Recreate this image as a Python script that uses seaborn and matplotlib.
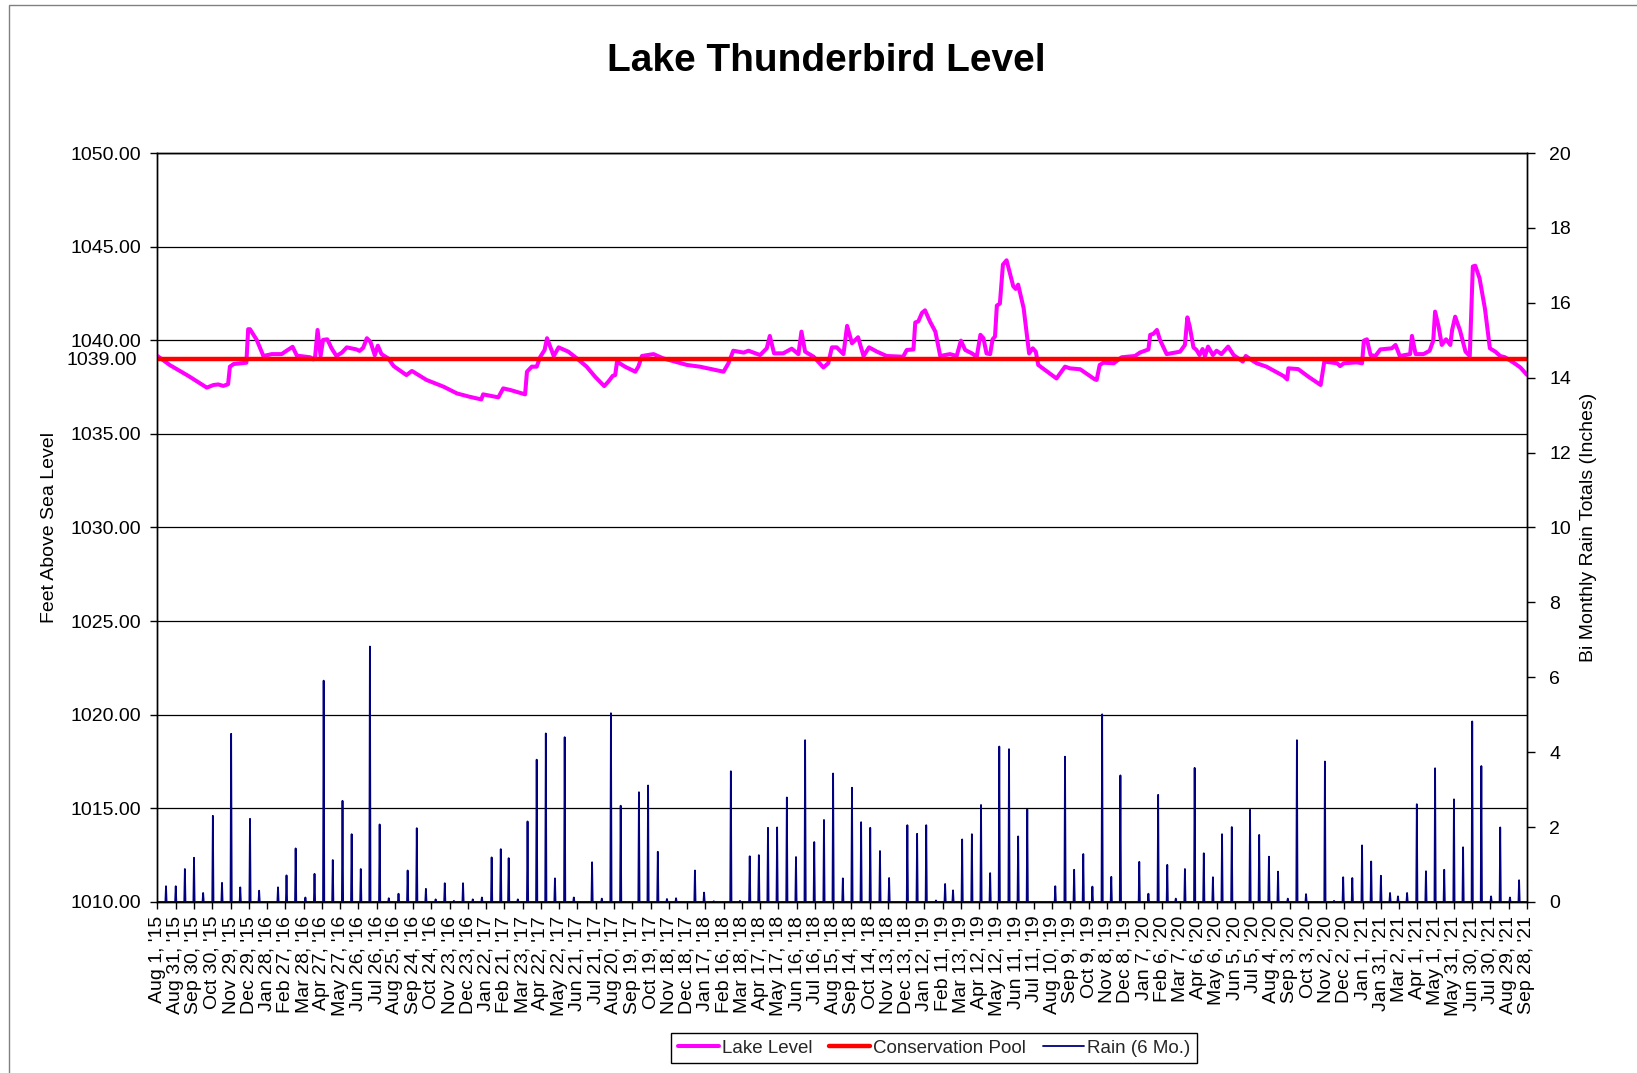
import numpy as np
import pandas as pd
import matplotlib
matplotlib.use("Agg")
import matplotlib.pyplot as plt
from matplotlib.lines import Line2D
from matplotlib.patches import Rectangle
import seaborn as sns

# ---------------- data ----------------
title = "Lake Thunderbird Level"
start_date = "2015-08-01"
end_date = "2021-09-28"

# lake level samples: days since Aug 1, 2015 and feet above sea level
lake_day = [0, 20, 51, 81, 92, 100, 108, 116, 119, 125, 146, 149, 152, 163, 174, 188, 204, 212, 222, 229,
            251, 256, 259, 263, 268, 272, 279, 286, 294, 303, 311, 327, 332, 338, 344, 350, 357, 362, 368, 379,
            388, 409, 418, 442, 470, 492, 513, 532, 535, 560, 568, 580, 604, 607, 615, 623, 629, 636, 640, 651,
            659, 675, 689, 705, 719, 734, 741, 748, 752, 755, 768, 785, 790, 796, 815, 831, 870, 891, 930, 938,
            946, 963, 971, 990, 1001, 1006, 1013, 1028, 1042, 1053, 1058, 1064, 1078, 1094, 1102, 1108, 1116, 1127, 1133, 1141,
            1151, 1160, 1169, 1182, 1198, 1225, 1231, 1242, 1245, 1250, 1256, 1261, 1269, 1278, 1286, 1302, 1313, 1320, 1327, 1338,
            1346, 1352, 1357, 1362, 1368, 1372, 1376, 1379, 1384, 1389, 1395, 1406, 1410, 1414, 1423, 1428, 1432, 1438, 1443, 1447,
            1477, 1491, 1499, 1516, 1540, 1543, 1548, 1554, 1571, 1584, 1606, 1614, 1628, 1631, 1636, 1642, 1647, 1658, 1680, 1688,
            1692, 1696, 1702, 1707, 1712, 1717, 1721, 1726, 1734, 1740, 1748, 1759, 1768, 1783, 1788, 1799, 1806, 1822, 1850, 1856,
            1858, 1874, 1891, 1911, 1917, 1938, 1943, 1949, 1970, 1979, 1982, 1987, 1993, 2001, 2009, 2028, 2034, 2041, 2058, 2061,
            2067, 2080, 2090, 2096, 2099, 2105, 2110, 2117, 2124, 2127, 2132, 2140, 2149, 2156, 2161, 2165, 2172, 2181, 2189, 2198,
            2206, 2214, 2228, 2239, 2250]
lake_level = [1039.16, 1038.68, 1038.09, 1037.47, 1037.61, 1037.64, 1037.56, 1037.65, 1038.59, 1038.73, 1038.80, 1040.59, 1040.59, 1040.02, 1039.16, 1039.26, 1039.26, 1039.44, 1039.65, 1039.18,
              1039.09, 1038.98, 1039.12, 1040.55, 1039.16, 1040.02, 1040.05, 1039.57, 1039.16, 1039.34, 1039.62, 1039.51, 1039.43, 1039.60, 1040.11, 1039.91, 1039.20, 1039.71, 1039.26, 1039.03,
              1038.62, 1038.14, 1038.36, 1037.88, 1037.52, 1037.16, 1036.98, 1036.84, 1037.11, 1036.95, 1037.43, 1037.34, 1037.11, 1038.32, 1038.59, 1038.59, 1039.12, 1039.48, 1040.11, 1039.16,
              1039.62, 1039.39, 1039.03, 1038.59, 1038.05, 1037.55, 1037.80, 1038.10, 1038.14, 1038.86, 1038.59, 1038.32, 1038.59, 1039.16, 1039.26, 1039.03, 1038.68, 1038.59, 1038.32, 1038.77,
              1039.44, 1039.34, 1039.44, 1039.21, 1039.57, 1040.23, 1039.30, 1039.30, 1039.55, 1039.26, 1040.46, 1039.39, 1039.12, 1038.55, 1038.77, 1039.62, 1039.62, 1039.26, 1040.77, 1039.84,
              1040.16, 1039.16, 1039.62, 1039.39, 1039.16, 1039.12, 1039.48, 1039.51, 1040.95, 1041.01, 1041.46, 1041.60, 1041.01, 1040.46, 1039.16, 1039.26, 1039.16, 1039.98, 1039.48, 1039.30,
              1039.12, 1040.29, 1040.11, 1039.30, 1039.26, 1040.05, 1040.20, 1041.85, 1041.96, 1044.04, 1044.27, 1042.88, 1042.74, 1042.97, 1041.72, 1040.38, 1039.30, 1039.57, 1039.39, 1038.68,
              1037.96, 1038.59, 1038.50, 1038.45, 1037.91, 1037.88, 1038.68, 1038.80, 1038.77, 1039.09, 1039.16, 1039.34, 1039.51, 1040.29, 1040.34, 1040.55, 1040.02, 1039.26, 1039.39, 1039.75,
              1041.22, 1040.72, 1039.62, 1039.48, 1039.21, 1039.53, 1039.16, 1039.66, 1039.21, 1039.44, 1039.26, 1039.66, 1039.21, 1038.86, 1039.16, 1038.91, 1038.77, 1038.59, 1038.09, 1037.91,
              1038.50, 1038.46, 1038.05, 1037.61, 1038.86, 1038.77, 1038.62, 1038.77, 1038.82, 1038.77, 1039.98, 1040.05, 1039.21, 1039.16, 1039.51, 1039.57, 1039.75, 1039.16, 1039.26, 1040.23,
              1039.26, 1039.26, 1039.44, 1039.98, 1041.53, 1040.70, 1039.75, 1040.05, 1039.75, 1040.55, 1041.26, 1040.52, 1039.39, 1039.16, 1043.94, 1043.98, 1043.32, 1041.67, 1039.57, 1039.39,
              1039.16, 1039.09, 1038.80, 1038.55, 1038.15]

conservation_pool = 1039.0

# bi-monthly rain totals (inches): 15th and end of each month, Aug 15 2015 .. Sep 15 2021
rain_inches = [0.42, 0.42, 0.88, 1.18, 0.24, 2.30, 0.51, 4.49, 0.39, 2.22,
               0.30, 0.00, 0.39, 0.71, 1.43, 0.12, 0.75, 5.91, 1.12, 2.70,
               1.81, 0.88, 6.82, 2.07, 0.10, 0.22, 0.84, 1.97, 0.35, 0.07,
               0.50, 0.03, 0.50, 0.07, 0.12, 1.19, 1.41, 1.17, 0.07, 2.15,
               3.80, 4.50, 0.63, 4.40, 0.12, 0.00, 1.06, 0.09, 5.04,
               2.57, 0.00, 2.93, 3.11, 1.34, 0.08, 0.10, 0.00, 0.84, 0.25,
               0.02, 0.00, 3.49, 0.03, 1.22, 1.25, 1.98, 1.99, 2.79, 1.20,
               4.32, 1.60, 2.19, 3.43, 0.63, 3.05, 2.13, 1.98, 1.36, 0.64,
               0.00, 2.05, 1.82, 2.05, 0.04, 0.48, 0.31, 1.67, 1.81, 2.59,
               0.77, 4.15, 4.08, 1.75, 2.47, 0.00, 0.00, 0.42, 3.88, 0.86,
               1.28, 0.41, 5.01, 0.67, 3.38, 0.00, 1.07, 0.22, 2.86, 0.99,
               0.09, 0.88, 3.58, 1.30, 0.66, 1.81, 2.00, 0.00, 2.46, 1.79,
               1.21, 0.81, 0.09, 4.32, 0.21, 0.00, 3.75, 0.03, 0.66, 0.64,
               1.51, 1.08, 0.70, 0.24, 0.15, 0.24, 2.61, 0.82, 3.57, 0.86,
               2.74, 1.46, 4.82, 3.63, 0.15, 1.99, 0.12, 0.58]

left_ticks = [1010, 1015, 1020, 1025, 1030, 1035, 1040, 1045, 1050]
right_ticks = [0, 2, 4, 6, 8, 10, 12, 14, 16, 18, 20]
legend_labels = ["Lake Level", "Conservation Pool", "Rain (6 Mo.)"]
y_label_left = "Feet Above Sea Level"
y_label_right = "Bi Monthly Rain Totals (Inches)"

# ---------------- build tables ----------------
t0 = pd.Timestamp(start_date)
t1 = pd.Timestamp(end_date)
lake_df = pd.DataFrame({"date": t0 + pd.to_timedelta(lake_day, unit="D"), "level": lake_level})
pool_df = pd.DataFrame({"date": [t0, t1], "level": [conservation_pool, conservation_pool]})

months = pd.date_range("2015-08-01", "2021-09-01", freq="MS")
rain_dates = []
for m in months:
    rain_dates.append(m + pd.Timedelta(days=14))
    rain_dates.append(m + pd.offsets.MonthEnd(0))
rain_dates = rain_dates[:len(rain_inches)]
days = pd.date_range(t0, t1, freq="D")
rain_daily = pd.Series(0.0, index=days)
rain_daily.loc[rain_dates] = rain_inches
rain_df = pd.DataFrame({"date": rain_daily.index, "rain": rain_daily.values})

tick_dates = pd.date_range(t0, periods=76, freq="30D")
tick_labels = [f"{d:%b} {d.day}, '{d:%y}" for d in tick_dates]

# ---------------- plot ----------------
sns.set_theme(style="white")
plt.rcParams["font.family"] = ["Liberation Sans", "DejaVu Sans"]

fig = plt.figure(figsize=(16.37, 10.73), dpi=100)
ax = fig.add_axes([0.0962, 0.1594, 0.8366, 0.698])

sns.lineplot(data=lake_df, x="date", y="level", ax=ax, color="#FF00FF", lw=2.9, zorder=3)
sns.lineplot(data=pool_df, x="date", y="level", ax=ax, color="#FF0000", lw=3.2, zorder=4)

ax.set_xlim(t0, t1)
ax.set_ylim(1010, 1050)
ax.set_yticks(left_ticks)
ax.set_yticklabels([f"{v:.2f}" for v in left_ticks])
ax.set_yticks([conservation_pool], minor=True)
ax.set_yticklabels([f"{conservation_pool:.2f}"], minor=True)
ax.grid(axis="y", which="major", color="black", lw=0.9)
ax.set_axisbelow(True)
ax.tick_params(axis="y", which="major", left=True, direction="out", length=5, width=1,
               color="black", labelsize=14, pad=7, labelcolor="black")
ax.tick_params(axis="y", which="minor", left=True, length=0, labelsize=14, pad=15, labelcolor="black")
ax.set_xticks(tick_dates)
ax.set_xticklabels(tick_labels, rotation=90, fontsize=14, color="black")
ax.tick_params(axis="x", bottom=True, direction="out", length=5, width=1, color="black", pad=5)
ax.set_xlabel("")
ax.set_ylabel(y_label_left, fontsize=14, color="black")
ax.yaxis.set_label_coords(-0.0727, 0.5)
for s in ax.spines.values():
    s.set_color("black")
    s.set_linewidth(1.0)

ax2 = ax.twinx()
sns.lineplot(data=rain_df, x="date", y="rain", ax=ax2, color="#000080", lw=1.3)
ax2.set_ylim(0, 20)
ax2.set_yticks(right_ticks)
ax2.set_yticklabels([str(v) for v in right_ticks])
ax2.tick_params(axis="y", right=True, direction="out", length=6, width=1, color="black",
                labelsize=14, pad=10, labelcolor="black")
ax2.set_xlim(t0, t1)
ax2.set_ylabel(y_label_right, fontsize=14, color="black")
ax2.yaxis.set_label_coords(1.0387, 0.5)
ax2.set_xlabel("")
for s in ax2.spines.values():
    s.set_color("black")
    s.set_linewidth(1.0)

fig.text(0.505, 0.9436, title, ha="center", va="center", fontsize=28, fontweight="bold", color="black")

handles = [Line2D([0], [0], color="#FF00FF", lw=2.9),
           Line2D([0], [0], color="#FF0000", lw=3.2),
           Line2D([0], [0], color="#000080", lw=1.3)]
leg = fig.legend(handles, legend_labels, loc="center", bbox_to_anchor=(0.5706, 0.0233), ncol=3,
                 fontsize=13.5, frameon=True, fancybox=False, framealpha=1, edgecolor="black",
                 handlelength=2.2, handletextpad=0.15, columnspacing=0.9, borderpad=0.35,
                 borderaxespad=0)
leg.get_frame().set_linewidth(1.0)

fig.patches.append(Rectangle((0.0055, -0.01), 1.0, 1.0053, transform=fig.transFigure,
                             fill=False, edgecolor="#808080", lw=1.0))

fig.savefig("out.png", dpi=100)
